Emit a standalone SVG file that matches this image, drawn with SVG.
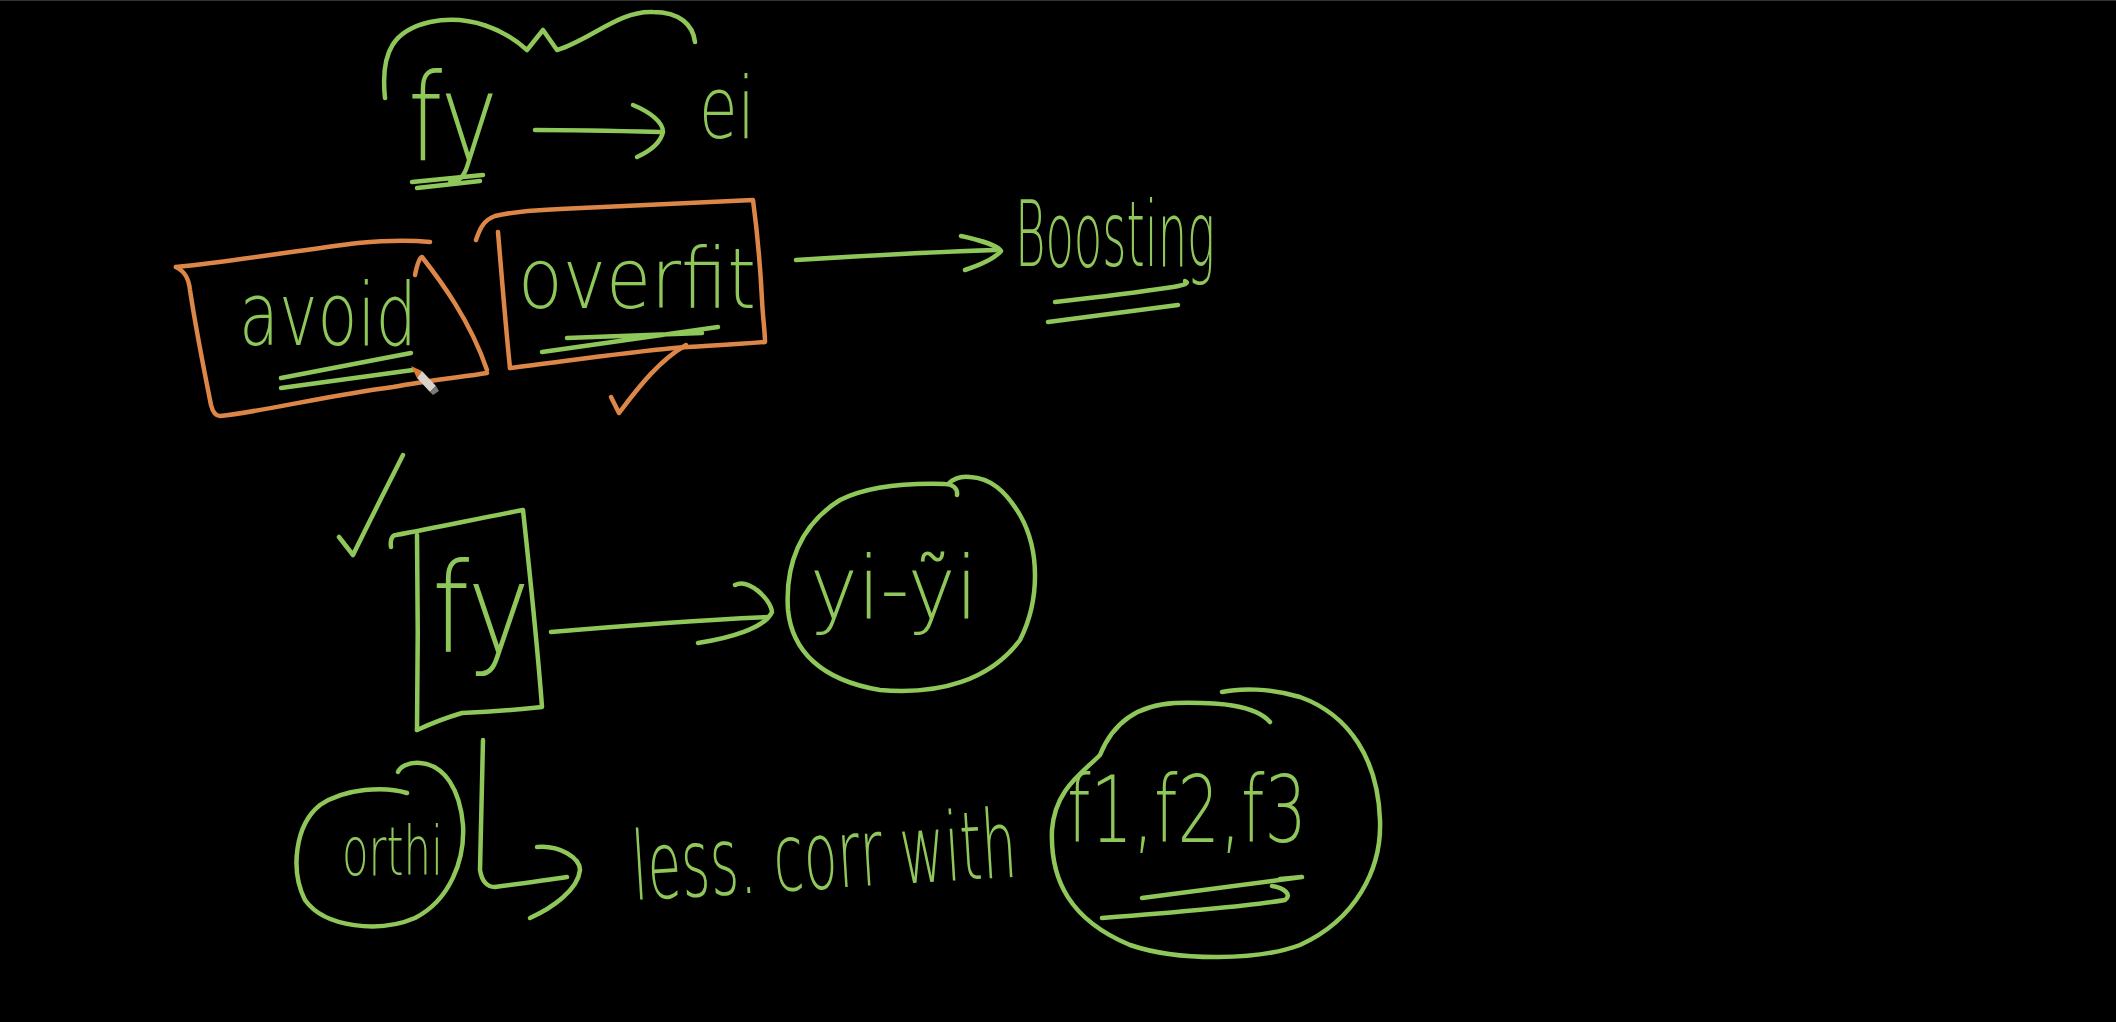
<svg xmlns="http://www.w3.org/2000/svg" width="2116" height="1022" viewBox="0 0 2116 1022">
<style>
.g{fill:none;stroke:#8fc75a;stroke-width:4.5;stroke-linecap:round;stroke-linejoin:round}
.o{fill:none;stroke:#dc8748;stroke-width:4.5;stroke-linecap:round;stroke-linejoin:round}
.t{fill:#8fc75a;font-family:"DejaVu Sans","Liberation Sans",sans-serif;font-weight:200}
</style>
<rect x="0" y="0" width="2116" height="1022" fill="#000"/>
<line x1="0" y1="0.5" x2="2116" y2="0.5" stroke="#333" stroke-width="1"/>

<g id="brace">
<path class="g" d="M385,98 C380,50 395,30 430,22 C470,14 505,30 527,50 L543,30 L557,50 C590,40 620,10 653,12 C680,12 693,25 695,42"/>
</g>

<g id="node-fy-top">
<text class="t" x="408" y="160" font-size="122" textLength="90" lengthAdjust="spacingAndGlyphs">fy</text>
<path class="g" d="M412,182 L483,175 M417,188 L480,181"/>
</g>

<g id="node-ei">
<text class="t" x="699" y="138" font-size="85" textLength="56" lengthAdjust="spacingAndGlyphs">ei</text>
</g>

<g id="node-avoid">
<path class="o" d="M176,267 C230,262 300,250 358,243 C390,240 410,240 430,242"/>
<path class="o" d="M176,267 C186,272 189,280 190,290 C196,330 204,370 211,405 C213,413 216,416 220,416 C260,412 330,395 393,387 C430,380 463,377 487,373"/>
<path class="o" d="M415,275 C417,265 419,258 422,257 C440,280 470,320 487,370"/>
<text class="t" x="239" y="345" font-size="88" textLength="178" lengthAdjust="spacingAndGlyphs">avoid</text>
<path class="g" d="M281,378 L411,353 M281,388 L413,370"/>
<path d="M411,366 L422,371 L417,378 Z" fill="#e07a30"/>
<path d="M422,371 L436,386 L430,392 L417,378 Z" fill="#d9d2c8"/>
<path d="M436,386 L439,391 L433,395 L430,392 Z" fill="#7a7a7a"/>
</g>

<g id="node-overfit">
<path class="o" d="M476,240 C480,228 484,220 495,216 C520,210 540,210 560,209 C640,205 700,202 753,200 C757,230 760,260 762,300 C763,320 765,332 765,342 C730,345 700,346 674,348 C620,353 560,362 510,368"/>
<path class="o" d="M498,232 C502,280 506,330 510,368"/>
<text class="t" x="518" y="308" font-size="84" textLength="238" lengthAdjust="spacingAndGlyphs">overfit</text>
<path class="g" d="M542,352 L718,327 M567,338 L702,333"/>
<path class="o" d="M611,397 L619,413 C640,385 660,360 686,345"/>
</g>

<g id="node-boosting">
<text class="t" x="1015" y="266" font-size="90" textLength="200" lengthAdjust="spacingAndGlyphs">Boosting</text>
<path class="g" d="M1055,302 C1100,297 1140,292 1173,287 C1185,285 1190,283 1185,281 M1048,322 L1178,305"/>
</g>

<g id="check-left">
<path class="g" d="M339,537 L353,555 C370,520 388,485 403,455"/>
</g>

<g id="node-fy-box">
<path class="g" d="M391,547 C390,540 392,535 396,535 C440,527 480,518 523,510 C530,575 537,640 542,707 C515,710 490,712 462,713 C445,718 430,724 417,730"/>
<path class="g" d="M417,535 C418,600 418,665 417,730"/>
<text class="t" x="432" y="652" font-size="125" textLength="98" lengthAdjust="spacingAndGlyphs">fy</text>
</g>

<g id="node-yi">
<path class="g" d="M957,495 C958,488 952,484 945,484 C910,483 870,485 840,500 C800,525 785,565 788,610 C792,650 820,680 880,690 C940,695 990,680 1020,640 C1040,600 1040,550 1020,515 C1005,490 990,478 970,477 C962,476 954,478 948,484"/>
<text class="t" x="810" y="618" font-size="88" textLength="168" lengthAdjust="spacingAndGlyphs">yi-ỹi</text>
</g>

<g id="node-orthi">
<path class="g" d="M407,793 C385,786 345,788 320,805 C295,825 290,870 305,900 C325,928 380,933 415,918 C450,900 465,860 463,825 C460,790 445,765 420,763 C408,762 400,767 398,772"/>
<text class="t" x="342" y="875" font-size="68" textLength="101" lengthAdjust="spacingAndGlyphs">orthi</text>
</g>

<g id="node-less">
<text class="t" x="634" y="900" font-size="95" textLength="385" lengthAdjust="spacingAndGlyphs" transform="rotate(-3.5 634 900)">less. corr with</text>
</g>

<g id="node-f123">
<path class="g" d="M1270,722 C1255,705 1220,702 1175,703 C1135,705 1112,725 1100,755 C1080,775 1055,790 1052,830 C1050,880 1070,920 1130,945 C1180,962 1260,960 1300,945 C1355,920 1382,870 1380,820 C1378,760 1350,715 1300,697 C1270,688 1240,688 1222,692"/>
<text class="t" x="1067" y="842" font-size="92" textLength="240" lengthAdjust="spacingAndGlyphs">f1,f2,f3</text>
<path class="g" d="M1142,898 L1302,877 L1280,879"/>
<path class="g" d="M1102,918 C1180,912 1250,906 1285,900 C1292,895 1285,888 1272,886"/>
</g>

<g id="connectors">
<path class="g" d="M535,130 C580,130 620,131 660,132"/>
<path class="g" d="M633,105 C650,112 663,122 663,132 C660,145 648,152 637,157"/>
<path class="g" d="M796,260 C860,256 930,252 996,250"/>
<path class="g" d="M961,236 C980,240 998,246 1001,251 C995,258 980,265 965,270"/>
<path class="g" d="M551,632 C620,626 700,620 768,617"/>
<path class="g" d="M735,585 C748,578 770,598 772,612 C765,628 730,638 698,643"/>
<path class="g" d="M483,740 C482,790 481,830 480,870 C482,882 488,887 495,887 C520,884 545,880 567,877"/>
<path class="g" d="M537,847 C560,845 580,858 580,870 C578,890 552,908 530,918"/>
</g>
</svg>
